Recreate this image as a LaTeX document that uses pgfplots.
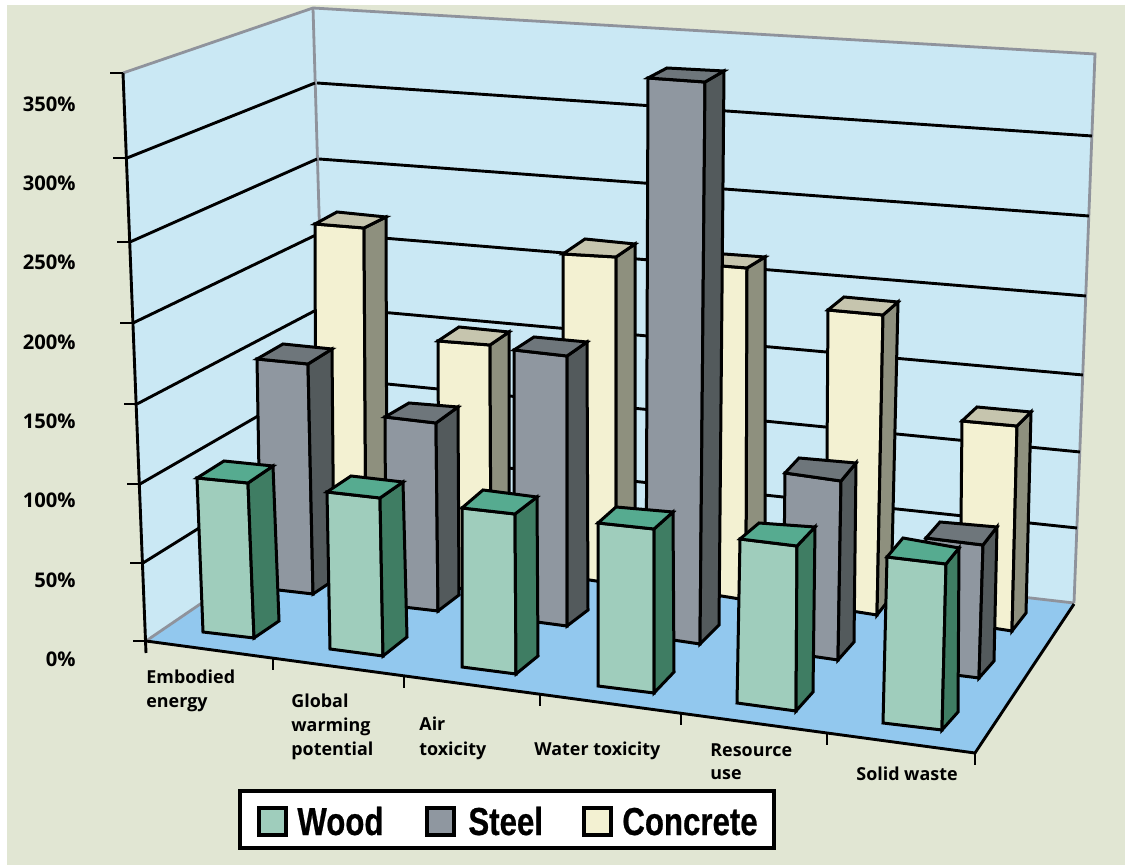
\documentclass[border=0pt]{standalone}
\usepackage{fontspec}
\usepackage{pgfplots}
\pgfplotsset{compat=1.18}
\setmainfont{Open Sans}
\newfontfamily\legendfont[FakeStretch=0.8,BoldFeatures={FakeBold=0.6}]{Liberation Sans}

\definecolor{pagebg}{HTML}{E1E6D3}
\definecolor{wallc}{HTML}{CAE8F4}
\definecolor{floorc}{HTML}{92C8EE}
\definecolor{edgegray}{HTML}{8F939C}
\definecolor{woodF}{HTML}{9FCDBC}
\definecolor{woodS}{HTML}{3F7D63}
\definecolor{woodT}{HTML}{56AB90}
\definecolor{steelF}{HTML}{8F97A0}
\definecolor{steelS}{HTML}{535A5C}
\definecolor{steelT}{HTML}{6E767B}
\definecolor{concF}{HTML}{F3F1D2}
\definecolor{concS}{HTML}{8E907E}
\definecolor{concT}{HTML}{C6C5AE}

% One column: front corners, then the back corners that show on top and on the side.
% #1 colour prefix, #2 front top left, #3 front top right, #4 front bottom right,
% #5 front bottom left, #6 back top left, #7 back top right, #8 back bottom right
\newcommand{\prism}[8]{%
  \addplot[fill=#1F,draw=black,line width=1.5pt] coordinates {#2 #3 #4 #5} -- cycle;
  \addplot[fill=#1S,draw=black,line width=1.5pt] coordinates {#3 #7 #8 #4} -- cycle;
  \addplot[fill=#1T,draw=black,line width=1.5pt] coordinates {#2 #6 #7 #3} -- cycle;
}
\newcommand{\seg}[3][black]{\addplot[draw=#1,line width=1.45pt] coordinates {#2 #3};}
\newcommand{\catlabel}[2]{\node[anchor=base west,inner sep=0pt,font=\fontsize{8.95}{8.95}\selectfont\bfseries] at (axis cs:#1) {#2};}
\newcommand{\vallabel}[2]{\node[anchor=base east,inner sep=0pt,font=\fontsize{10.1}{10.1}\selectfont\bfseries] at (axis cs:76,#1) {#2};}
\newcommand{\keylabel}[2]{\node[anchor=base west,inner sep=0pt,font=\legendfont\fontsize{19.5}{19.5}\selectfont\bfseries] at (axis cs:#1) {#2};}

\begin{document}
\begin{tikzpicture}
\begin{axis}[
  hide axis, x=0.5pt, y=0.5pt, y dir=reverse,
  xmin=0, xmax=1125, ymin=0, ymax=865,
  scale only axis, clip=true,
]
% page
\addplot[fill=white,draw=none] coordinates {(0,0) (1125,0) (1125,865) (0,865)} -- cycle;
\addplot[fill=pagebg,draw=none] coordinates {(7,5) (1125,5) (1125,865) (7,865)} -- cycle;
% walls and floor
\addplot[fill=wallc,draw=none] coordinates {(123,73) (313,8) (328,517) (146,641)} -- cycle;
\addplot[fill=wallc,draw=none] coordinates {(313,8) (1095,54) (1074,603) (328,517)} -- cycle;
\addplot[fill=floorc,draw=none] coordinates {(146,641) (328,517) (1074,604) (975,753)} -- cycle;
% wall outline
\addplot[draw=edgegray,line width=1.4pt] coordinates {(123,73) (313,8) (1095,54) (1074,603)};
\addplot[draw=edgegray,line width=1.4pt] coordinates {(313,8) (328,517)};
\addplot[draw=edgegray,line width=1.4pt] coordinates {(146,641) (328,517) (1074,603)};
% grid on the side wall
\seg{(127,158)}{(315,83)}
\seg{(130,242)}{(317,159)}
\seg{(133,323)}{(320,233)}
\seg{(137,404)}{(322,307)}
\seg{(140,484)}{(324,378)}
\seg{(143,563)}{(326,449)}
% grid on the back wall
\seg{(317,83)}{(1092,136)}
\seg{(319,159)}{(1089,216)}
\seg{(322,233)}{(1086,296)}
\seg{(324,307)}{(1083,375)}
\seg{(326,378)}{(1080,452)}
\seg{(328,449)}{(1077,528)}
% axes and tick marks
\seg{(123,73)}{(146,653)}
\seg{(110,73)}{(123,73)}
\seg{(113,158)}{(127,158)}
\seg{(117,242)}{(130,242)}
\seg{(120,323)}{(133,323)}
\seg{(124,404)}{(137,404)}
\seg{(127,484)}{(140,484)}
\seg{(130,563)}{(143,563)}
\seg{(133,641)}{(146,641)}
\seg{(146,641)}{(975,753)}
\seg{(975,753)}{(1074,604)}
\seg{(273,658)}{(273,670)}
\seg{(404,676)}{(404,688)}
\seg{(540,695)}{(540,706)}
\seg{(681,713)}{(681,725)}
\seg{(827,733)}{(827,745)}
\seg{(975,753)}{(975,765)}
% Concrete
\prism{conc}{(315,224)}{(364,228)}{(366,575)}{(316,570)}{(337,212)}{(386,217)}{(387,560)}
\prism{conc}{(438,341)}{(490,345)}{(491,592)}{(439,586)}{(459,327)}{(509,332)}{(509,578)}
\prism{conc}{(563,254)}{(616,257)}{(616,584)}{(563,576)}{(585,239)}{(635,244)}{(635,569)}
\prism{conc}{(697,264)}{(747,268)}{(746,600)}{(697,592)}{(724,254)}{(765,257)}{(765,584)}
\prism{conc}{(828,310)}{(883,315)}{(877,615)}{(826,607)}{(844,297)}{(898,302)}{(891,597)}
\prism{conc}{(962,421)}{(1017,426)}{(1012,631)}{(960,623)}{(977,407)}{(1031,412)}{(1026,613)}
% Steel
\prism{steel}{(257,359)}{(308,364)}{(313,594)}{(261,588)}{(283,344)}{(332,349)}{(334,580)}
\prism{steel}{(385,417)}{(436,423)}{(438,611)}{(386,605)}{(409,403)}{(458,407)}{(459,595)}
\prism{steel}{(514,350)}{(567,356)}{(567,626)}{(514,619)}{(534,337)}{(587,342)}{(588,610)}
\prism{steel}{(648,78)}{(705,82)}{(700,644)}{(646,636)}{(667,68)}{(724,71)}{(719,625)}
\prism{steel}{(785,473)}{(841,481)}{(838,660)}{(783,652)}{(799,458)}{(856,463)}{(854,642)}
\prism{steel}{(926,538)}{(983,545)}{(979,678)}{(924,671)}{(940,522)}{(997,527)}{(994,661)}
% Wood
\prism{wood}{(197,478)}{(248,483)}{(254,638)}{(203,632)}{(224,461)}{(273,466)}{(279,621)}
\prism{wood}{(327,492)}{(380,498)}{(383,656)}{(330,649)}{(351,476)}{(403,482)}{(407,637)}
\prism{wood}{(462,508)}{(515,514)}{(516,674)}{(462,667)}{(483,490)}{(537,497)}{(538,656)}
\prism{wood}{(598,523)}{(654,529)}{(654,693)}{(598,686)}{(616,507)}{(673,512)}{(674,672)}
\prism{wood}{(740,539)}{(797,546)}{(796,711)}{(737,703)}{(759,523)}{(815,527)}{(813,692)}
\prism{wood}{(887,557)}{(946,564)}{(942,730)}{(883,723)}{(903,538)}{(959,548)}{(958,712)}
% legend
\addplot[fill=white,draw=black,line width=1.9pt] coordinates {(240,791) (774,791) (774,848) (240,848)} -- cycle;
\addplot[fill=woodF,draw=black,line width=1.6pt] coordinates {(259,808) (286,808) (286,835) (259,835)} -- cycle;
\addplot[fill=steelF,draw=black,line width=1.6pt] coordinates {(427,808) (454,808) (454,835) (427,835)} -- cycle;
\addplot[fill=concF,draw=black,line width=1.6pt] coordinates {(584,808) (611,808) (611,835) (584,835)} -- cycle;
\keylabel{297,835}{Wood}
\keylabel{468,835}{Steel}
\keylabel{622,835}{Concrete}
% value scale
\vallabel{112}{350\%}
\vallabel{191}{300\%}
\vallabel{270}{250\%}
\vallabel{350}{200\%}
\vallabel{429}{150\%}
\vallabel{508}{100\%}
\vallabel{588}{50\%}
\vallabel{667}{0\%}
% categories
\catlabel{146,684}{Embodied}
\catlabel{146,708}{energy}
\catlabel{291,708}{Global}
\catlabel{291,732}{warming}
\catlabel{291,755}{potential}
\catlabel{419,731}{Air}
\catlabel{419,755}{toxicity}
\catlabel{534,755}{Water toxicity}
\catlabel{710,756}{Resource}
\catlabel{710,779}{use}
\catlabel{856,781}{Solid waste}
\end{axis}
\end{tikzpicture}
\end{document}
